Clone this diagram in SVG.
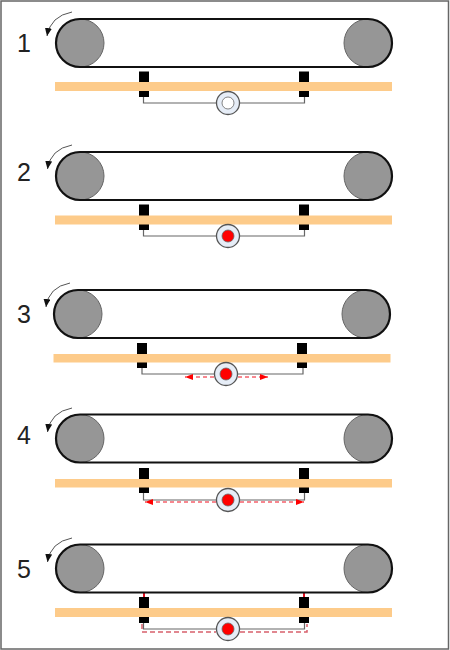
<svg xmlns="http://www.w3.org/2000/svg" width="450" height="650" viewBox="0 0 450 650">
<style>
.num{font-family:"Liberation Sans",Arial,sans-serif;font-size:25px;fill:#222}
.belt{fill:none;stroke:#111;stroke-width:2.200}
.wheel{fill:#969696;stroke:#666;stroke-width:1}
.bar{fill:#fdcb8a}
.blk{fill:#000}
.wire{fill:none;stroke:#666;stroke-width:1.200}
.rot{fill:none;stroke:#555;stroke-width:1}
.outer{fill:#e6edf7;stroke:#555;stroke-width:1.300}
.inner{stroke:#666;stroke-width:.8}
.flow{fill:none;stroke:#f01020;stroke-width:1;stroke-dasharray:4 3}
.flowp{fill:none;stroke:#d8606c;stroke-width:1.500;stroke-dasharray:5 3}
.stub{fill:none;stroke:#e01020;stroke-width:2}
</style>
<defs>
<marker id="rh" markerWidth="9" markerHeight="8" refX="8" refY="3.500" orient="auto" markerUnits="userSpaceOnUse"><path d="M0 0L8 3.500L0 7Z" fill="#111"/></marker>
<marker id="ra" markerWidth="9" markerHeight="7" refX="8" refY="3" orient="auto" markerUnits="userSpaceOnUse"><path d="M0 0L8 3L0 6Z" fill="#f00"/></marker>
</defs>
<rect x="1" y="1" width="447.500" height="648" fill="#fff" stroke="#666" stroke-width="1.500"/>
<g id="connectors">
<path class="wire" d="M143.500 97V103H304.500V97"/>
<path class="wire" d="M143.500 230V236H304.500V230"/>
<path class="wire" d="M142 368V374H303V368"/>
<path class="wire" d="M143.500 493V500H304.500V493"/>
<path class="wire" d="M143.500 623V629H304.500V623"/>
<path class="flow" d="M214 377H185" marker-end="url(#ra)"/>
<path class="flow" d="M238 377H268" marker-end="url(#ra)"/>
<path class="flow" d="M216 502H145" marker-end="url(#ra)"/>
<path class="flow" d="M240 502H304" marker-end="url(#ra)"/>
<path class="flowp" d="M142 624V632H216M240 632H307V624"/>
<path class="stub" d="M144 592V597M304 592V597"/>
</g>
<g id="stage1">
<text class="num" x="17" y="52">1</text>
<circle class="wheel" cx="80" cy="43" r="24"/><circle class="wheel" cx="368" cy="43" r="24"/>
<rect class="belt" x="56" y="19" width="336" height="48" rx="24"/>
<path class="rot" d="M72 12Q50.500 16 47 36" marker-end="url(#rh)"/>
<rect class="blk" x="139" y="71.500" width="10" height="25.500"/><rect class="blk" x="299" y="71.500" width="10" height="25.500"/>
<rect class="bar" x="55" y="82" width="337" height="9"/>
<circle class="outer" cx="228" cy="103" r="11.500"/><circle class="inner" cx="228" cy="103" r="6" fill="#fff"/>
</g>
<g id="stage2">
<text class="num" x="17" y="181">2</text>
<circle class="wheel" cx="80" cy="176" r="24"/><circle class="wheel" cx="368" cy="176" r="24"/>
<rect class="belt" x="56" y="152" width="336" height="48" rx="24"/>
<path class="rot" d="M72 145Q50.500 149 47.500 169" marker-end="url(#rh)"/>
<rect class="blk" x="139" y="204.500" width="10" height="25.500"/><rect class="blk" x="299" y="204.500" width="10" height="25.500"/>
<rect class="bar" x="55" y="215.500" width="337" height="9"/>
<circle class="outer" cx="228" cy="236" r="11.500"/><circle class="inner" cx="228" cy="236" r="6" fill="#f00"/>
</g>
<g id="stage3">
<text class="num" x="17" y="323">3</text>
<circle class="wheel" cx="78" cy="314" r="24"/><circle class="wheel" cx="366" cy="314" r="24"/>
<rect class="belt" x="54" y="290" width="336" height="48" rx="24"/>
<path class="rot" d="M70 283Q48.500 287 46 307" marker-end="url(#rh)"/>
<rect class="blk" x="137" y="343" width="10" height="25"/><rect class="blk" x="297" y="343" width="10" height="25"/>
<rect class="bar" x="53.500" y="354" width="337" height="8.500"/>
<circle class="outer" cx="226" cy="374" r="11.500"/><circle class="inner" cx="226" cy="374" r="6" fill="#f00"/>
</g>
<g id="stage4">
<text class="num" x="17" y="444">4</text>
<circle class="wheel" cx="80" cy="438.500" r="24"/><circle class="wheel" cx="368" cy="438.500" r="24"/>
<rect class="belt" x="56" y="414.500" width="336" height="48" rx="24"/>
<path class="rot" d="M72 408Q50.500 412 47.500 432" marker-end="url(#rh)"/>
<rect class="blk" x="139" y="468" width="10" height="25"/><rect class="blk" x="299" y="468" width="10" height="25"/>
<rect class="bar" x="55" y="479" width="337" height="8.500"/>
<circle class="outer" cx="228" cy="500" r="11.500"/><circle class="inner" cx="228" cy="500" r="6" fill="#f00"/>
</g>
<g id="stage5">
<text class="num" x="17" y="578">5</text>
<circle class="wheel" cx="80" cy="568.500" r="24"/><circle class="wheel" cx="368" cy="568.500" r="24"/>
<rect class="belt" x="56" y="544.500" width="336" height="48" rx="24"/>
<path class="rot" d="M72 538Q50.500 542 47.500 562" marker-end="url(#rh)"/>
<rect class="blk" x="139" y="597" width="10" height="26"/><rect class="blk" x="299" y="597" width="10" height="26"/>
<rect class="bar" x="55" y="608" width="337" height="9"/>
<circle class="outer" cx="228" cy="629" r="11.500"/><circle class="inner" cx="228" cy="629" r="6" fill="#f00"/>
</g>
</svg>
